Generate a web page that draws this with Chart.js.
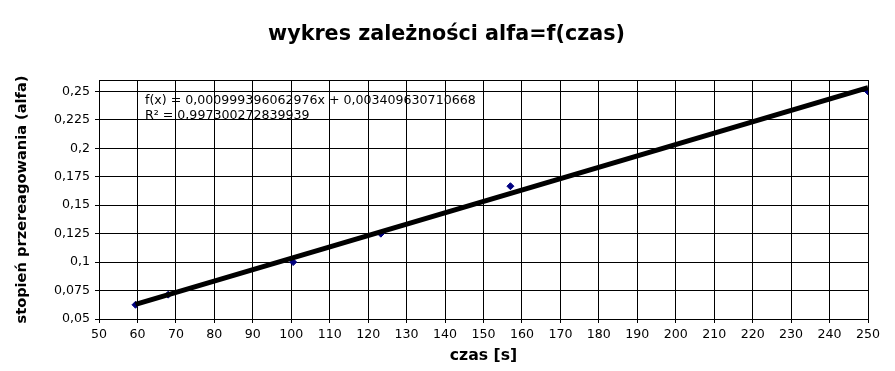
<!DOCTYPE html>
<html>
<head>
<meta charset="utf-8">
<script src="https://cdn.jsdelivr.net/npm/chart.js@4"></script>
<style>
  body { margin: 0; background: #fff; }
  #wrap { width: 895px; height: 371px; }
</style>
</head>
<body>
<div id="wrap"><canvas id="chart" width="895" height="371"></canvas></div>
<script>
// measured points: time [s] vs conversion degree (alfa)
const czas = [59.5, 68, 100.5, 123.3, 157, 250];
const alfa = [0.0625, 0.0714, 0.1, 0.125, 0.1667, 0.25];
const xTicks = [50, 60, 70, 80, 90, 100, 110, 120, 130, 140, 150, 160, 170, 180, 190, 200, 210, 220, 230, 240, 250];
const yTicks = [0.05, 0.075, 0.1, 0.125, 0.15, 0.175, 0.2, 0.225, 0.25];
const slope = 0.000999396062976;
const intercept = 0.003409630710668;
const eqText = 'f(x) = 0,000999396062976x + 0,003409630710668';
const r2Text = 'R² = 0,997300272839939';

const points = czas.map((x, i) => ({ x: x, y: alfa[i] }));
const xMin = Math.min(...czas), xMax = Math.max(...czas);
const trend = [xMin, xMax].map(x => ({ x: x, y: slope * x + intercept }));

const fmt = v => String(v).replace('.', ',');

const frame = {
  id: 'frame',
  afterDraw(chart) {
    const a = chart.chartArea, c = chart.ctx;
    c.save();
    c.strokeStyle = '#000';
    c.lineWidth = 1;
    c.strokeRect(Math.round(a.left) + 0.5, Math.round(a.top) + 0.5,
                 Math.round(a.right - a.left), Math.round(a.bottom - a.top));
    c.fillStyle = '#000';
    c.font = '12.6px "DejaVu Sans"';
    c.textBaseline = 'middle';
    c.fillText(eqText, a.left + 46, a.top + 21);
    c.fillText(r2Text, a.left + 46, a.top + 36);
    c.restore();
  }
};

new Chart(document.getElementById('chart'), {
  type: 'scatter',
  data: {
    datasets: [
      {
        type: 'line',
        data: trend,
        borderColor: '#000',
        borderWidth: 5,
        pointRadius: 0,
        fill: false,
        order: 0
      },
      {
        data: points,
        backgroundColor: '#000080',
        borderColor: '#000080',
        pointStyle: 'rectRot',
        pointRadius: 3.5,
        order: 1
      }
    ]
  },
  options: {
    responsive: false,
    animation: false,
    layout: { padding: { top: 0, right: 2, left: 0, bottom: 0 } },
    plugins: {
      legend: { display: false },
      tooltip: { enabled: false },
      title: {
        display: true,
        text: 'wykres zależności alfa=f(czas)',
        color: '#000',
        font: { family: 'DejaVu Sans', size: 20.7, weight: 'bold' },
        padding: { top: 22.6, bottom: 32.6 }
      }
    },
    scales: {
      x: {
        type: 'linear',
        min: 50,
        max: 250,
        afterBuildTicks: s => { s.ticks = xTicks.map(v => ({ value: v })); },
        afterFit: s => { s.height = 52; },
        grid: { color: '#000', lineWidth: 1, tickLength: 4 },
        border: { color: '#000' },
        ticks: {
          color: '#000',
          font: { family: 'DejaVu Sans', size: 12.6 },
          maxRotation: 0,
          autoSkip: false,
          padding: 4
        },
        title: {
          display: true,
          text: 'czas [s]',
          color: '#000',
          font: { family: 'DejaVu Sans', size: 15.7, weight: 'bold' },
          padding: { top: 0, bottom: 5.6 }
        }
      },
      y: {
        min: 0.05,
        max: 0.26,
        afterBuildTicks: s => { s.ticks = yTicks.map(v => ({ value: v })); },
        afterFit: s => { s.width = 99; },
        grid: { color: '#000', lineWidth: 1, tickLength: 4 },
        border: { color: '#000' },
        ticks: {
          color: '#000',
          font: { family: 'DejaVu Sans', size: 12.6 },
          padding: 5,
          callback: v => fmt(v)
        },
        title: {
          display: true,
          text: 'stopień przereagowania (alfa)',
          color: '#000',
          font: { family: 'DejaVu Sans', size: 14.6, weight: 'bold' },
          padding: { top: 13, bottom: 0 }
        }
      },
      // empty right-hand strip so the plot ends where the reference does
      yRight: {
        position: 'right',
        min: 0.05,
        max: 0.26,
        afterFit: s => { s.width = 25; },
        grid: { display: false },
        border: { display: false },
        ticks: { display: false }
      }
    }
  },
  plugins: [frame]
});
</script>
</body>
</html>
